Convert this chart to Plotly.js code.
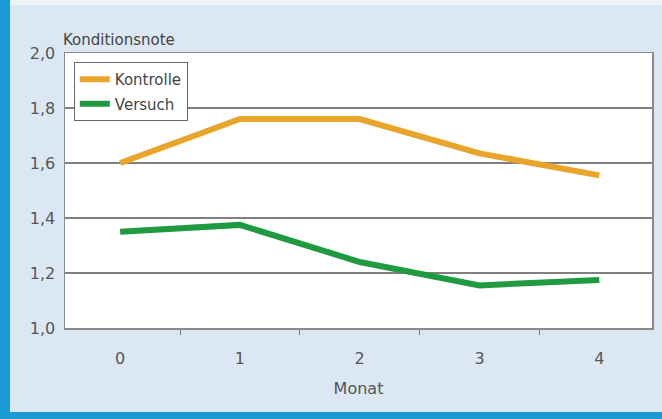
<!DOCTYPE html>
<html>
<head>
<meta charset="utf-8">
<script src="https://cdn.plot.ly/plotly-3.0.1.min.js"></script>
<style>
  html, body { margin: 0; padding: 0; background: #dbe8f4; }
  #wrap { position: absolute; left: 0; top: 0; width: 652px; height: 412px;
          border-left: 10px solid #1a9bd6; border-bottom: 7px solid #1a9bd6;
          background: #dbe8f4; }
  #topband { position: absolute; left: 10px; top: 0; width: 652px; height: 5px; background: #eef4fa; z-index: 2; }
  #chart { width: 652px; height: 412px; }
</style>
</head>
<body>
<div id="wrap"><div id="chart"></div></div>
<div id="topband"></div>
<script>
const months = [0, 1, 2, 3, 4];
const monthLabels = ['0', '1', '2', '3', '4'];
const kontrolle = [1.60, 1.76, 1.76, 1.635, 1.555];
const versuch = [1.35, 1.375, 1.24, 1.155, 1.175];
const yTicks = [1.0, 1.2, 1.4, 1.6, 1.8, 2.0];
const boundaries = [0.5, 1.5, 2.5, 3.5];

const font = "'DejaVu Sans', sans-serif";
const traces = [
  { x: months, y: kontrolle, name: 'Kontrolle', legendgroup: 'k', type: 'scatter', mode: 'lines',
    line: { color: '#e9a52a', width: 6 } },
  { x: months, y: versuch, name: 'Versuch', legendgroup: 'v', type: 'scatter', mode: 'lines',
    line: { color: '#1f9a40', width: 6 } }
];
const layout = {
  width: 652, height: 412,
  margin: { l: 55, r: 10, t: 53, b: 84 },
  paper_bgcolor: '#dbe8f4', plot_bgcolor: '#ffffff',
  separators: ',.',
  font: { family: font, color: '#555555', size: 14 },
  showlegend: true,
  legend: { x: 0.015, y: 0.967, xanchor: 'left', yanchor: 'top',
            bgcolor: '#ffffff', bordercolor: '#666666', borderwidth: 1,
            font: { size: 15, color: '#444444' }, tracegroupgap: 2,
            itemwidth: 30 },
  xaxis: {
    range: [-0.46, 4.44], tickmode: 'array', tickvals: months, ticktext: monthLabels,
    ticks: '', showgrid: false, zeroline: false, ticklabelstandoff: 15,
    showline: true, linecolor: '#8a8a8a', linewidth: 1.5, mirror: true,
    tickfont: { size: 16, color: '#555555' },
    minor: { tickmode: 'array', tickvals: boundaries, ticks: 'outside', ticklen: 5, tickcolor: '#777777', showgrid: false },
    title: { text: 'Monat', font: { size: 16, color: '#555555' }, standoff: 16 }
  },
  yaxis: {
    range: [1.0, 2.0], tickmode: 'array', tickvals: yTicks, tickformat: '.1f',
    showgrid: true, gridcolor: '#808080', gridwidth: 1.5, zeroline: false,
    showline: true, linecolor: '#8a8a8a', linewidth: 1.5, mirror: true,
    ticks: '', ticklabelstandoff: 5, tickfont: { size: 16, color: '#555555' }
  },
  annotations: [
    { text: 'Konditionsnote', xref: 'paper', yref: 'paper', x: 0, y: 1,
      xanchor: 'left', yanchor: 'bottom', xshift: -4, yshift: 2, showarrow: false,
      font: { size: 15, color: '#444444' } }
  ]
};
Plotly.newPlot('chart', traces, layout, { displayModeBar: false, staticPlot: true });
</script>
</body>
</html>
